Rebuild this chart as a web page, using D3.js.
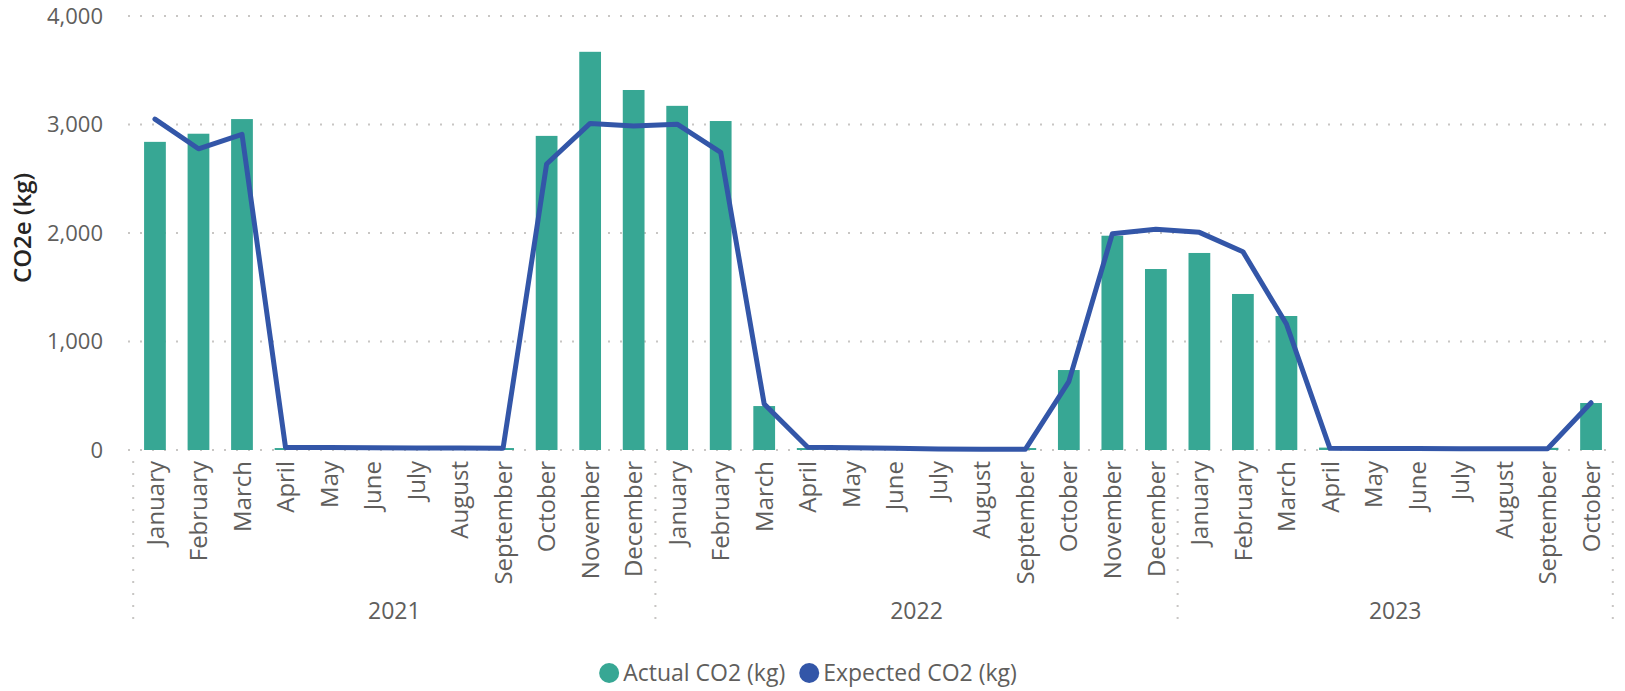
<!DOCTYPE html>
<html>
<head>
<meta charset="utf-8">
<script src="https://cdn.jsdelivr.net/npm/d3@7"></script>
<style>
  html, body { margin: 0; padding: 0; background: #fff; }
  svg { display: block; font-family: "Open Sans", "Noto Sans", sans-serif; }
</style>
</head>
<body>
<svg id="chart" width="1625" height="691"></svg>
<script>
const years = ["2021", "2022", "2023"];
const monthsByYear = [
  ["January","February","March","April","May","June","July","August","September","October","November","December"],
  ["January","February","March","April","May","June","July","August","September","October","November","December"],
  ["January","February","March","April","May","June","July","August","September","October"]
];
const actualCO2 = [2840, 2915, 3050, 18, 18, 18, 18, 18, 18, 2895, 3670, 3318,
                   3172, 3032, 405, 18, 18, 18, 18, 18, 18, 737, 1975, 1668,
                   1816, 1438, 1235, 22, 20, 20, 20, 20, 20, 433];
const expectedCO2 = [3050, 2776, 2910, 24, 22, 20, 19, 18, 17, 2636, 3010, 2986,
                     3003, 2744, 424, 25, 20, 16, 10, 8, 6, 630, 1994, 2034,
                     2006, 1828, 1161, 15, 14, 13, 12, 12, 12, 436];
const yTicks = [0, 1000, 2000, 3000, 4000];
const seriesNames = ["Actual CO2 (kg)", "Expected CO2 (kg)"];
const yTitle = "CO2e (kg)";

(function () {
const colors = { actual: "#37A794", expected: "#3356A8" };

const cats = [];
years.forEach((yr, yi) => monthsByYear[yi].forEach((m, mi) => cats.push({ key: yr + "-" + mi, year: yr, month: m })));
cats.forEach((c, i) => { c.actual = actualCO2[i]; c.expected = expectedCO2[i]; });

const svg = d3.select("#chart");
const pLeft = 133.2, pRight = 1612.8, pTop = 16, pBottom = 450;

const x = d3.scaleBand().domain(cats.map(c => c.key)).range([pLeft, pRight]).padding(0);
const y = d3.scaleLinear().domain([0, 4000]).range([pBottom, pTop]);
const barW = x.bandwidth() * 0.5;
const cx = k => x(k) + x.bandwidth() / 2;

// gridlines
svg.append("g").selectAll("line").data(yTicks).join("line")
  .attr("x1", 128).attr("x2", 1615)
  .attr("y1", d => y(d)).attr("y2", d => y(d))
  .attr("stroke", "#C8C6C4").attr("stroke-width", 2)
  .attr("stroke-dasharray", "2,10");

// y axis labels
const yAxis = d3.axisLeft(y).tickValues(yTicks).tickFormat(d3.format(",")).tickSize(0).tickPadding(0);
const yg = svg.append("g").attr("transform", "translate(103,0)").call(yAxis);
yg.select(".domain").remove();
yg.selectAll("text").attr("fill", "#605E5C").attr("font-size", 22)
  .attr("font-family", "'Open Sans', sans-serif").attr("dy", "0.34em");

// y title
svg.append("text")
  .attr("transform", `translate(31,228) rotate(-90)`)
  .attr("text-anchor", "middle")
  .attr("font-size", 24).attr("font-weight", 600).attr("fill", "#252423")
  .text(yTitle);

// bars
svg.append("g").selectAll("rect").data(cats).join("rect")
  .attr("x", d => cx(d.key) - barW / 2)
  .attr("width", barW)
  .attr("y", d => y(d.actual))
  .attr("height", d => y(0) - y(d.actual))
  .attr("fill", colors.actual);

// line
const line = d3.line().x(d => cx(d.key)).y(d => y(d.expected));
svg.append("path").datum(cats)
  .attr("d", line)
  .attr("fill", "none")
  .attr("stroke", colors.expected)
  .attr("stroke-width", 5)
  .attr("stroke-linejoin", "round")
  .attr("stroke-linecap", "round");

// month labels
const xAxis = d3.axisBottom(x).tickFormat((k, i) => cats[i].month).tickSize(0).tickPadding(0);
const xg = svg.append("g").attr("transform", `translate(0,461)`).call(xAxis);
xg.select(".domain").remove();
xg.selectAll("text")
  .attr("fill", "#605E5C").attr("font-size", 24)
  .attr("font-family", "'Open Sans', sans-serif")
  .attr("text-anchor", "end")
  .attr("transform", "rotate(-90)")
  .attr("x", 0).attr("y", 0).attr("dy", "0.36em");

// year separators and labels
let idx = 0;
const bounds = [pLeft];
years.forEach((yr, yi) => {
  const n = monthsByYear[yi].length;
  const start = x(cats[idx].key);
  const end = x(cats[idx + n - 1].key) + x.bandwidth();
  bounds.push(end);
  svg.append("text")
    .attr("x", (start + end) / 2).attr("y", 610)
    .attr("text-anchor", "middle").attr("dominant-baseline", "central")
    .attr("font-size", 23).attr("fill", "#605E5C")
    .text(yr);
  idx += n;
});
svg.append("g").selectAll("line").data(bounds).join("line")
  .attr("x1", d => d).attr("x2", d => d)
  .attr("y1", 461).attr("y2", 628)
  .attr("stroke", "#C8C6C4").attr("stroke-width", 2)
  .attr("stroke-dasharray", "2,10");

// legend
const lg = svg.append("g");
const items = [{ name: seriesNames[0], color: colors.actual }, { name: seriesNames[1], color: colors.expected }];
let lx = 0;
items.forEach((it) => {
  const g = lg.append("g").attr("transform", `translate(${lx},0)`);
  g.append("circle").attr("cx", 10).attr("cy", 0).attr("r", 10).attr("fill", it.color);
  const t = g.append("text").attr("x", 24).attr("y", 0).attr("dy", "0.35em")
    .attr("font-size", 23).attr("fill", "#605E5C").text(it.name);
  lx += 24 + t.node().getComputedTextLength() + 14;
});
const lw = lx - 14;
lg.attr("transform", `translate(${808 - lw / 2},673)`);
})();
</script>
</body>
</html>
